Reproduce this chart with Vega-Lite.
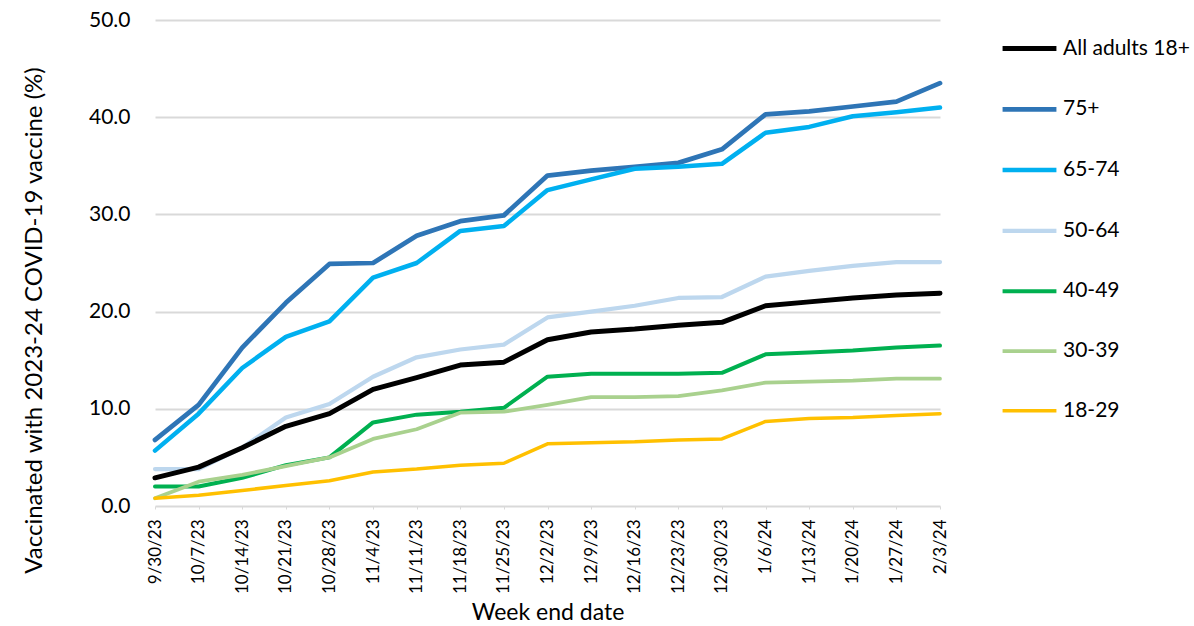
{
  "$schema": "https://vega.github.io/schema/vega-lite/v6.json",
  "width": 785,
  "height": 486,
  "autosize": {"type": "none"},
  "padding": {"left": 155, "top": 20, "right": 254, "bottom": 120},
  "background": "white",
  "config": {"font": "Lato", "view": {"stroke": null}},
  "data": {"values": [
    {"date":"9/30/23","group":"75+","value":6.8},{"date":"10/7/23","group":"75+","value":10.4},{"date":"10/14/23","group":"75+","value":16.3},{"date":"10/21/23","group":"75+","value":20.9},{"date":"10/28/23","group":"75+","value":24.9},{"date":"11/4/23","group":"75+","value":25.0},{"date":"11/11/23","group":"75+","value":27.8},{"date":"11/18/23","group":"75+","value":29.3},{"date":"11/25/23","group":"75+","value":29.9},{"date":"12/2/23","group":"75+","value":34.0},{"date":"12/9/23","group":"75+","value":34.5},{"date":"12/16/23","group":"75+","value":34.9},{"date":"12/23/23","group":"75+","value":35.3},{"date":"12/30/23","group":"75+","value":36.7},{"date":"1/6/24","group":"75+","value":40.3},{"date":"1/13/24","group":"75+","value":40.6},{"date":"1/20/24","group":"75+","value":41.1},{"date":"1/27/24","group":"75+","value":41.6},{"date":"2/3/24","group":"75+","value":43.5},
    {"date":"9/30/23","group":"65-74","value":5.7},{"date":"10/7/23","group":"65-74","value":9.5},{"date":"10/14/23","group":"65-74","value":14.2},{"date":"10/21/23","group":"65-74","value":17.4},{"date":"10/28/23","group":"65-74","value":19.0},{"date":"11/4/23","group":"65-74","value":23.5},{"date":"11/11/23","group":"65-74","value":25.0},{"date":"11/18/23","group":"65-74","value":28.3},{"date":"11/25/23","group":"65-74","value":28.8},{"date":"12/2/23","group":"65-74","value":32.5},{"date":"12/9/23","group":"65-74","value":33.6},{"date":"12/16/23","group":"65-74","value":34.7},{"date":"12/23/23","group":"65-74","value":34.9},{"date":"12/30/23","group":"65-74","value":35.2},{"date":"1/6/24","group":"65-74","value":38.4},{"date":"1/13/24","group":"65-74","value":39.0},{"date":"1/20/24","group":"65-74","value":40.1},{"date":"1/27/24","group":"65-74","value":40.5},{"date":"2/3/24","group":"65-74","value":41.0},
    {"date":"9/30/23","group":"50-64","value":3.8},{"date":"10/7/23","group":"50-64","value":3.8},{"date":"10/14/23","group":"50-64","value":6.0},{"date":"10/21/23","group":"50-64","value":9.1},{"date":"10/28/23","group":"50-64","value":10.5},{"date":"11/4/23","group":"50-64","value":13.3},{"date":"11/11/23","group":"50-64","value":15.3},{"date":"11/18/23","group":"50-64","value":16.1},{"date":"11/25/23","group":"50-64","value":16.6},{"date":"12/2/23","group":"50-64","value":19.4},{"date":"12/9/23","group":"50-64","value":20.0},{"date":"12/16/23","group":"50-64","value":20.6},{"date":"12/23/23","group":"50-64","value":21.4},{"date":"12/30/23","group":"50-64","value":21.5},{"date":"1/6/24","group":"50-64","value":23.6},{"date":"1/13/24","group":"50-64","value":24.2},{"date":"1/20/24","group":"50-64","value":24.7},{"date":"1/27/24","group":"50-64","value":25.1},{"date":"2/3/24","group":"50-64","value":25.1},
    {"date":"9/30/23","group":"40-49","value":2.0},{"date":"10/7/23","group":"40-49","value":2.0},{"date":"10/14/23","group":"40-49","value":2.9},{"date":"10/21/23","group":"40-49","value":4.2},{"date":"10/28/23","group":"40-49","value":5.0},{"date":"11/4/23","group":"40-49","value":8.6},{"date":"11/11/23","group":"40-49","value":9.4},{"date":"11/18/23","group":"40-49","value":9.7},{"date":"11/25/23","group":"40-49","value":10.1},{"date":"12/2/23","group":"40-49","value":13.3},{"date":"12/9/23","group":"40-49","value":13.6},{"date":"12/16/23","group":"40-49","value":13.6},{"date":"12/23/23","group":"40-49","value":13.6},{"date":"12/30/23","group":"40-49","value":13.7},{"date":"1/6/24","group":"40-49","value":15.6},{"date":"1/13/24","group":"40-49","value":15.8},{"date":"1/20/24","group":"40-49","value":16.0},{"date":"1/27/24","group":"40-49","value":16.3},{"date":"2/3/24","group":"40-49","value":16.5},
    {"date":"9/30/23","group":"30-39","value":0.8},{"date":"10/7/23","group":"30-39","value":2.5},{"date":"10/14/23","group":"30-39","value":3.2},{"date":"10/21/23","group":"30-39","value":4.1},{"date":"10/28/23","group":"30-39","value":5.0},{"date":"11/4/23","group":"30-39","value":6.9},{"date":"11/11/23","group":"30-39","value":7.9},{"date":"11/18/23","group":"30-39","value":9.6},{"date":"11/25/23","group":"30-39","value":9.7},{"date":"12/2/23","group":"30-39","value":10.4},{"date":"12/9/23","group":"30-39","value":11.2},{"date":"12/16/23","group":"30-39","value":11.2},{"date":"12/23/23","group":"30-39","value":11.3},{"date":"12/30/23","group":"30-39","value":11.9},{"date":"1/6/24","group":"30-39","value":12.7},{"date":"1/13/24","group":"30-39","value":12.8},{"date":"1/20/24","group":"30-39","value":12.9},{"date":"1/27/24","group":"30-39","value":13.1},{"date":"2/3/24","group":"30-39","value":13.1},
    {"date":"9/30/23","group":"18-29","value":0.8},{"date":"10/7/23","group":"18-29","value":1.1},{"date":"10/14/23","group":"18-29","value":1.6},{"date":"10/21/23","group":"18-29","value":2.1},{"date":"10/28/23","group":"18-29","value":2.6},{"date":"11/4/23","group":"18-29","value":3.5},{"date":"11/11/23","group":"18-29","value":3.8},{"date":"11/18/23","group":"18-29","value":4.2},{"date":"11/25/23","group":"18-29","value":4.4},{"date":"12/2/23","group":"18-29","value":6.4},{"date":"12/9/23","group":"18-29","value":6.5},{"date":"12/16/23","group":"18-29","value":6.6},{"date":"12/23/23","group":"18-29","value":6.8},{"date":"12/30/23","group":"18-29","value":6.9},{"date":"1/6/24","group":"18-29","value":8.7},{"date":"1/13/24","group":"18-29","value":9.0},{"date":"1/20/24","group":"18-29","value":9.1},{"date":"1/27/24","group":"18-29","value":9.3},{"date":"2/3/24","group":"18-29","value":9.5},
    {"date":"9/30/23","group":"All adults 18+","value":2.9},{"date":"10/7/23","group":"All adults 18+","value":4.0},{"date":"10/14/23","group":"All adults 18+","value":6.0},{"date":"10/21/23","group":"All adults 18+","value":8.2},{"date":"10/28/23","group":"All adults 18+","value":9.5},{"date":"11/4/23","group":"All adults 18+","value":12.0},{"date":"11/11/23","group":"All adults 18+","value":13.2},{"date":"11/18/23","group":"All adults 18+","value":14.5},{"date":"11/25/23","group":"All adults 18+","value":14.8},{"date":"12/2/23","group":"All adults 18+","value":17.1},{"date":"12/9/23","group":"All adults 18+","value":17.9},{"date":"12/16/23","group":"All adults 18+","value":18.2},{"date":"12/23/23","group":"All adults 18+","value":18.6},{"date":"12/30/23","group":"All adults 18+","value":18.9},{"date":"1/6/24","group":"All adults 18+","value":20.6},{"date":"1/13/24","group":"All adults 18+","value":21.0},{"date":"1/20/24","group":"All adults 18+","value":21.4},{"date":"1/27/24","group":"All adults 18+","value":21.7},{"date":"2/3/24","group":"All adults 18+","value":21.9}
  ]},
  "mark": {"type": "line", "strokeCap": "round", "strokeJoin": "round"},
  "encoding": {
    "x": {
      "field": "date", "type": "ordinal", "sort": null,
      "scale": {"type": "point", "padding": 0},
      "axis": {
        "title": "Week end date", "titleFontSize": 23, "titleFontWeight": "normal", "titleColor": "#000000", "titlePadding": 8,
        "labelAngle": -90, "labelFontSize": 17, "labelColor": "#000000", "labelPadding": 10,
        "domain": false, "ticks": true, "tickColor": "#d9d9d9", "tickSize": 3, "grid": false
      }
    },
    "y": {
      "field": "value", "type": "quantitative",
      "scale": {"domain": [0, 50], "nice": false},
      "axis": {
        "title": "Vaccinated with 2023-24 COVID-19 vaccine (%)", "titleFontSize": 24, "titleFontWeight": "normal", "titleColor": "#000000", "titlePadding": 42,
        "titleY": 300, "titleAnchor": null,
        "values": [0, 10, 20, 30, 40, 50], "format": ".1f",
        "labelFontSize": 21, "labelColor": "#000000", "labelPadding": 25,
        "domain": false, "ticks": false,
        "grid": true, "gridColor": "#d9d9d9", "gridWidth": 2
      }
    },
    "color": {
      "field": "group", "type": "nominal",
      "scale": {
        "domain": ["All adults 18+", "75+", "65-74", "50-64", "40-49", "30-39", "18-29"],
        "range": ["#000000", "#2E75B6", "#00B0F0", "#BDD7EE", "#00B050", "#A9D18E", "#FFC000"]
      },
      "legend": {
        "title": null, "orient": "none", "legendX": 845, "legendY": -1,
        "symbolType": "stroke", "symbolSize": 2900, "symbolStrokeWidth": 4.5,
        "labelFontSize": 21, "labelColor": "#000000", "labelOffset": 4,
        "rowPadding": 20.8
      }
    },
    "strokeWidth": {
      "field": "group", "type": "nominal",
      "scale": {
        "domain": ["All adults 18+", "75+", "65-74", "50-64", "40-49", "30-39", "18-29"],
        "range": [5, 3.5, 3.5, 3.5, 3.5, 3.5, 3.5]
      },
      "legend": null
    }
  }
}
